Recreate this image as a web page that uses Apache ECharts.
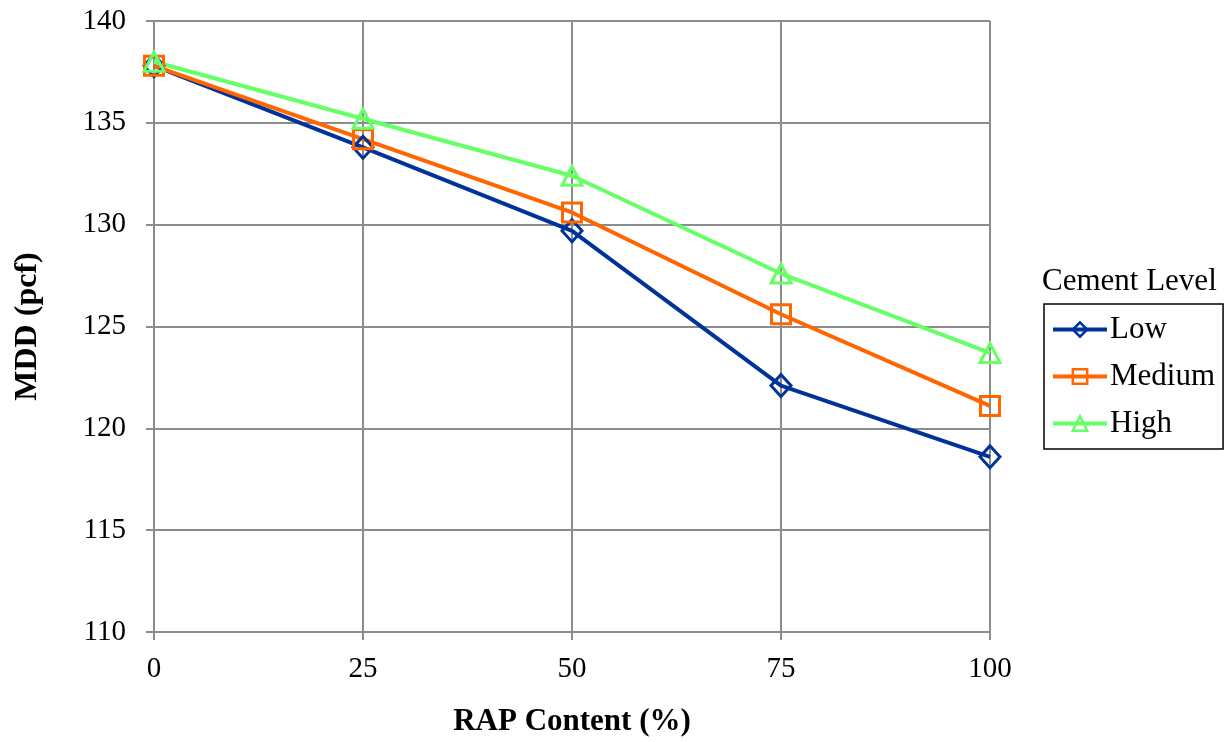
<!DOCTYPE html>
<html>
<head>
<meta charset="utf-8">
<script src="https://cdn.jsdelivr.net/npm/echarts@6/dist/echarts.min.js"></script>
<style>
html,body{margin:0;padding:0;background:#fff;}
#chart{width:1228px;height:742px;}
</style>
</head>
<body>
<div id="chart"></div>
<script>
const rapContent = [0, 25, 50, 75, 100];
const lowMDD = [137.8, 133.8, 129.7, 122.1, 118.6];
const mediumMDD = [137.8, 134.2, 130.6, 125.6, 121.1];
const highMDD = [138.0, 135.2, 132.4, 127.6, 123.7];
const seriesNames = ['Low', 'Medium', 'High'];
const legendTitle = 'Cement Level';
const xTitle = 'RAP Content (%)';
const yTitle = 'MDD (pcf)';

const FONT = '"Liberation Serif", "Times New Roman", serif';
const gridColor = '#8c8c8c';

function pairs(xs, ys) { return xs.map((x, i) => [x, ys[i]]); }

function mkSeries(name, ys, color, symbol, size) {
  return {
    name: name,
    type: 'line',
    data: pairs(rapContent, ys),
    symbol: symbol,
    symbolSize: size,
    showAllSymbol: true,
    lineStyle: { color: color, width: 4 },
    itemStyle: { color: 'rgba(255,255,255,0)', borderColor: color, borderWidth: 3 },
    z: 3
  };
}

const chart = echarts.init(document.getElementById('chart'), null, { renderer: 'canvas' });
chart.setOption({
  animation: false,
  backgroundColor: '#fff',
  textStyle: { fontFamily: FONT },
  title: {
    text: legendTitle,
    left: 1042,
    top: 266,
    padding: 0,
    textStyle: { fontFamily: FONT, fontWeight: 'normal', fontSize: 31, color: '#000' }
  },
  legend: {
    orient: 'vertical',
    left: 1044,
    top: 304,
    padding: [10, 8, 10, 7],
    itemGap: 16,
    itemWidth: 54,
    itemHeight: 18,
    borderColor: '#000',
    borderWidth: 1.5,
    lineStyle: { width: 4 },
    itemStyle: { borderWidth: 2.5 },
    textStyle: { fontFamily: FONT, fontSize: 31, color: '#000', lineHeight: 31, padding: [0, 0, 0, -2] },
    data: seriesNames
  },
  grid: { left: 154, right: 238, top: 21, bottom: 110, containLabel: false },
  xAxis: {
    type: 'value',
    min: 0, max: 100, interval: 25,
    name: xTitle,
    nameLocation: 'middle',
    nameGap: 74,
    nameTextStyle: { fontFamily: FONT, fontSize: 31, fontWeight: 'bold', color: '#000' },
    axisLine: { show: true, lineStyle: { color: gridColor, width: 2 } },
    axisTick: { show: true, length: 8, lineStyle: { color: gridColor, width: 2 } },
    axisLabel: { margin: 23, fontFamily: FONT, fontSize: 29, color: '#000' },
    splitLine: { show: true, lineStyle: { color: gridColor, width: 2 } }
  },
  yAxis: {
    type: 'value',
    min: 110, max: 140, interval: 5,
    name: yTitle,
    nameLocation: 'middle',
    nameGap: 110,
    nameRotate: 90,
    nameTextStyle: { fontFamily: FONT, fontSize: 32, fontWeight: 'bold', color: '#000' },
    axisLine: { show: true, lineStyle: { color: gridColor, width: 2 } },
    axisTick: { show: true, length: 8, lineStyle: { color: gridColor, width: 2 } },
    axisLabel: { margin: 28, fontFamily: FONT, fontSize: 29, color: '#000' },
    splitLine: { show: true, lineStyle: { color: gridColor, width: 2 } }
  },
  series: [
    mkSeries(seriesNames[0], lowMDD, '#003399', 'diamond', [20, 22]),
    mkSeries(seriesNames[1], mediumMDD, '#ff6600', 'rect', 19),
    mkSeries(seriesNames[2], highMDD, '#66ff66', 'triangle', [20, 19])
  ]
});
</script>
</body>
</html>
